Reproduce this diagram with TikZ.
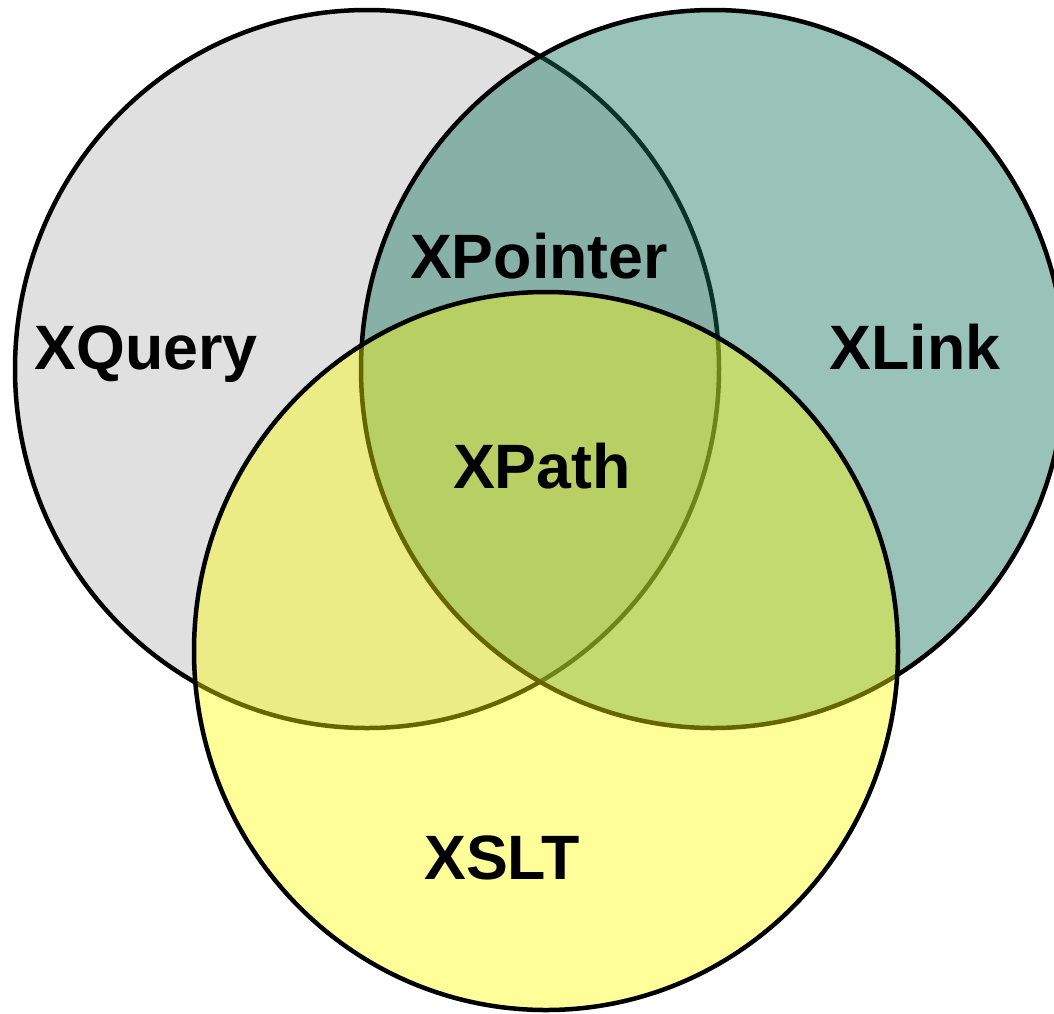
\documentclass[tikz,border=0pt]{standalone}
\usepackage{fontspec}
\setmainfont{Liberation Sans}

\begin{document}
\begin{tikzpicture}[x=1pt,y=-1pt]

    % Colors: grey base, translucent teal and yellow on top
    \colorlet{colorQ}{black!12}
    \definecolor{colorL}{RGB}{23,116,94}
    \definecolor{colorS}{RGB}{255,255,0}

    % Ellipse radii (slightly taller than wide)
    \def\rx{352pt}
    \def\ry{359pt}

    % Page frame: 1054 x 1013, the XLink set runs off the right edge
    \useasboundingbox (0,0) rectangle (1054,1013);

    % Set outline and label styles
    \tikzset{
        setring/.style={draw=black, line width=4.5pt},
        setlabel/.style={anchor=base, inner sep=0pt,
            font=\fontsize{62.7}{70}\selectfont\bfseries}
    }

    % Set centres
    \coordinate (cq) at (367,369);
    \coordinate (cl) at (713,369);
    \coordinate (cs) at (546,651);

    % XQuery (opaque grey)
    \draw[setring, fill=colorQ] (cq) ellipse [x radius=\rx, y radius=\ry];

    % XLink (teal, see-through)
    \draw[setring, fill=colorL, fill opacity=0.44] (cl) ellipse [x radius=\rx, y radius=\ry];

    % XSLT (yellow, see-through)
    \draw[setring, fill=colorS, fill opacity=0.40] (cs) ellipse [x radius=\rx, y radius=\ry];

    % Labels
    \node[setlabel] (xquery)   at (146,369) {XQuery};
    \node[setlabel] (xpointer) at (539,278) {XPointer};
    \node[setlabel] (xlink)    at (915,369) {XLink};
    \node[setlabel] (xpath)    at (542,488) {XPath};
    \node[setlabel] (xslt)     at (502,879) {XSLT};

\end{tikzpicture}
\end{document}
